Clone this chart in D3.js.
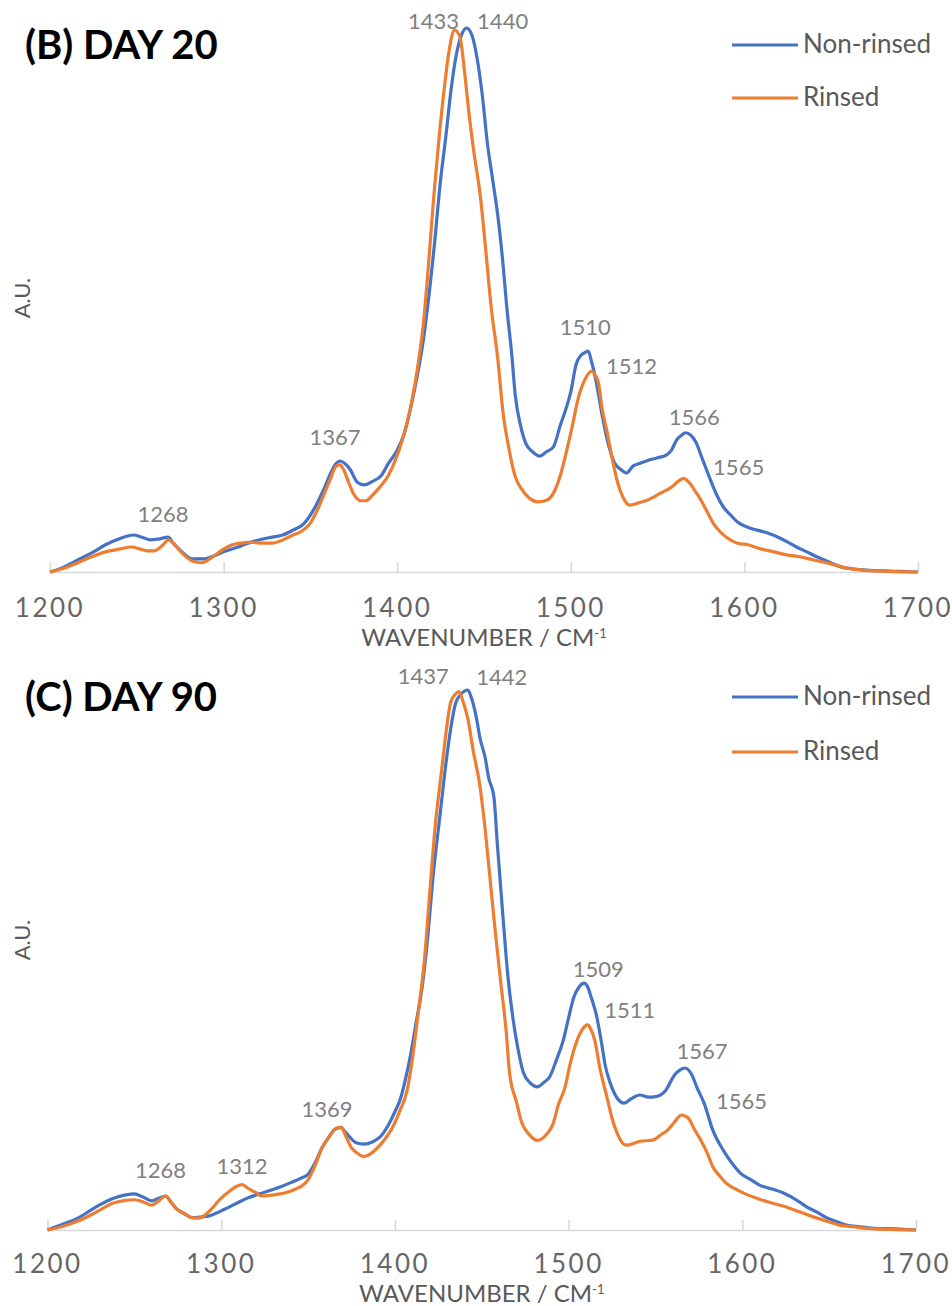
<!DOCTYPE html>
<html>
<head>
<meta charset="utf-8">
<script src="https://cdn.jsdelivr.net/npm/d3@7/dist/d3.min.js"></script>
<style>
  html, body { margin: 0; padding: 0; background: #ffffff; }
  svg { display: block; }
  text { font-family: Lato, "Open Sans", "Liberation Sans", sans-serif; }
</style>
</head>
<body>
<svg id="chart" width="952" height="1306"></svg>
<script>
// Raman spectra, 1200–1700 cm-1, two sampling days, non-rinsed vs rinsed.
const xTicks = [1200, 1300, 1400, 1500, 1600, 1700];
const seriesNames = ["Non-rinsed", "Rinsed"];
const seriesColors = ["#4472C4", "#ED7D31"];

// [wavenumber, intensity (A.U., tallest band = 100)]
const day20NonRinsed = [
  [1200,0],[1208,0.9],[1216,2.2],[1224,3.5],[1232,5.0],[1240,6.1],[1248,6.8],[1253,6.4],[1258,5.9],
  [1263,6.1],[1268,6.4],[1271,5.3],[1276,3.7],[1282,2.4],[1288,2.4],[1294,2.9],[1300,3.7],[1310,4.8],
  [1318,5.7],[1326,6.3],[1334,6.8],[1340,7.7],[1346,8.8],[1353,12.1],[1358,15.4],[1362,18.4],[1365,20.0],
  [1367,20.4],[1370,19.9],[1373,18.8],[1377,16.5],[1381,16.0],[1386,16.7],[1391,17.8],[1395,20.0],
  [1400,22.4],[1404,25.4],[1409,32.0],[1415,42.5],[1421,58.8],[1425,72.1],[1428,80.0],[1431,88.6],
  [1434,95.0],[1437,98.7],[1440,100],[1443,98.7],[1446,94.5],[1449,87.7],[1452,78.7],[1455,72.1],
  [1458,65.4],[1461,56.4],[1463,49.1],[1466,39.9],[1468,32.5],[1471,27.0],[1474,23.7],[1478,22.1],
  [1482,21.3],[1486,22.1],[1490,23.0],[1494,27.0],[1497,29.8],[1500,33.1],[1503,38.1],[1506,39.9],
  [1508,40.3],[1510,40.6],[1512,38.6],[1515,34.4],[1518,28.9],[1521,24.3],[1525,20.2],[1529,18.8],
  [1532,18.2],[1536,19.5],[1540,20.0],[1545,20.6],[1550,21.0],[1555,21.5],[1558,22.4],[1561,24.3],
  [1564,25.2],[1566,25.6],[1569,25.2],[1572,23.9],[1576,20.6],[1580,17.3],[1584,14.2],[1588,11.9],
  [1592,10.5],[1596,9.2],[1603,8.1],[1613,7.2],[1620,6.3],[1625,5.5],[1630,4.6],[1636,3.7],[1641,2.9],
  [1646,2.2],[1651,1.5],[1656,0.9],[1662,0.6],[1668,0.4],[1680,0.2],[1690,0.1],[1700,0]
];
const day20Rinsed = [
  [1200,0],[1208,0.7],[1216,1.7],[1224,2.8],[1232,3.7],[1240,4.2],[1247,4.6],[1252,4.2],[1256,3.9],
  [1260,3.9],[1263,4.4],[1266,5.3],[1268,5.9],[1271,5.3],[1274,4.2],[1278,2.9],[1282,2.0],[1287,1.7],
  [1292,2.4],[1296,3.3],[1300,4.2],[1305,5.0],[1310,5.3],[1316,5.5],[1322,5.3],[1328,5.3],[1334,5.9],
  [1340,6.8],[1345,7.5],[1350,9.0],[1354,11.4],[1357,13.6],[1361,16.7],[1365,19.5],[1367,19.7],
  [1369,18.9],[1372,16.5],[1375,14.3],[1379,13.1],[1382,13.1],[1386,14.2],[1390,15.6],[1395,17.8],
  [1399,20.6],[1403,24.3],[1408,30.7],[1412,38.1],[1415,45.4],[1418,56.4],[1421,68.8],[1424,79.4],
  [1427,88.6],[1430,96.0],[1433,99.6],[1436,98.5],[1439,91.4],[1441,85.3],[1444,77.6],[1448,68.8],
  [1451,59.2],[1454,49.1],[1458,39.0],[1461,29.2],[1464,23.3],[1468,17.5],[1472,15.1],[1476,13.6],
  [1481,12.9],[1486,13.2],[1490,14.5],[1494,17.8],[1498,22.8],[1501,27.0],[1504,31.6],[1508,35.3],
  [1512,36.9],[1514,36.2],[1516,34.7],[1518,30.1],[1521,25.6],[1524,20.6],[1527,16.4],[1530,13.8],
  [1534,12.3],[1539,12.7],[1544,13.2],[1549,14.0],[1553,14.7],[1558,15.6],[1562,16.7],[1565,17.2],
  [1568,16.5],[1572,14.7],[1575,13.2],[1578,11.4],[1582,9.0],[1586,7.4],[1590,6.3],[1596,5.3],
  [1602,5.0],[1610,4.2],[1617,3.7],[1625,3.1],[1632,2.8],[1640,2.2],[1646,1.8],[1652,1.3],[1659,0.7],
  [1667,0.4],[1675,0.2],[1700,0]
];
const day90NonRinsed = [
  [1200,0],[1209,1.1],[1218,2.3],[1228,4.3],[1238,5.9],[1245,6.5],[1250,6.7],[1255,6.1],[1260,5.4],
  [1264,5.9],[1268,6.3],[1271,5.2],[1274,4.0],[1279,3.0],[1283,2.3],[1288,2.4],[1293,2.6],[1297,3.1],
  [1301,3.7],[1308,4.8],[1315,5.9],[1322,6.7],[1328,7.3],[1335,8.1],[1341,8.9],[1346,9.6],[1350,10.3],
  [1354,12.4],[1358,15.2],[1362,17.2],[1365,18.5],[1369,19.0],[1371,18.3],[1374,17.2],[1378,16.1],
  [1382,15.9],[1387,16.3],[1392,17.4],[1396,19.3],[1400,21.9],[1403,24.1],[1406,27.8],[1409,32.4],
  [1412,38.0],[1416,45.7],[1419,54.6],[1422,65.6],[1426,76.9],[1429,85.4],[1432,92.6],[1435,97.6],
  [1438,99.2],[1442,100],[1444,98.6],[1447,94.7],[1449,91.1],[1452,87.4],[1454,83.7],[1457,80.2],
  [1459,71.3],[1462,58.9],[1465,47.2],[1468,39.1],[1471,33.3],[1474,29.1],[1478,27.2],[1482,26.5],
  [1486,27.4],[1489,28.3],[1493,31.5],[1497,35.2],[1500,39.3],[1503,43.1],[1506,45.0],[1509,45.7],
  [1511,45.0],[1513,43.1],[1516,39.8],[1519,34.6],[1521,30.6],[1524,27.2],[1528,24.4],[1532,23.5],
  [1536,24.3],[1541,25.0],[1546,24.6],[1550,24.7],[1556,25.9],[1561,28.7],[1564,29.6],[1567,30.0],
  [1571,28.7],[1574,26.3],[1578,23.5],[1583,18.5],[1589,14.8],[1594,12.4],[1599,10.5],[1605,9.3],
  [1610,8.3],[1617,7.6],[1624,6.8],[1631,5.6],[1637,4.3],[1643,3.3],[1649,2.2],[1655,1.5],[1660,0.9],
  [1668,0.6],[1676,0.3],[1688,0.2],[1700,0]
];
const day90Rinsed = [
  [1200,0],[1209,0.7],[1218,1.7],[1228,3.3],[1238,5.0],[1245,5.5],[1250,5.6],[1255,5.2],[1260,4.6],
  [1264,5.4],[1268,6.3],[1271,5.2],[1274,4.0],[1279,3.0],[1283,2.3],[1287,2.2],[1290,2.6],[1295,4.1],
  [1299,5.6],[1304,7.0],[1309,8.1],[1312,8.4],[1316,7.6],[1320,6.9],[1323,6.3],[1328,6.4],[1332,6.6],
  [1338,7.0],[1343,7.6],[1347,8.3],[1350,9.3],[1354,11.9],[1358,15.2],[1362,17.2],[1366,18.8],
  [1369,19.0],[1372,17.2],[1375,15.2],[1378,14.3],[1382,13.6],[1386,14.1],[1389,14.9],[1394,16.7],
  [1399,19.2],[1403,22.2],[1407,25.8],[1410,31.5],[1413,39.1],[1417,50.0],[1420,62.2],[1423,74.1],
  [1427,85.4],[1430,93.5],[1432,97.6],[1435,99.3],[1437,99.7],[1439,98.1],[1442,94.7],[1445,88.9],
  [1449,82.1],[1452,74.1],[1455,64.3],[1458,54.6],[1461,45.7],[1464,37.0],[1466,29.1],[1470,23.7],
  [1473,19.9],[1477,17.8],[1482,16.6],[1487,17.6],[1491,19.6],[1494,23.1],[1498,26.5],[1501,30.9],
  [1505,35.2],[1508,37.2],[1511,38.0],[1513,37.0],[1515,35.2],[1518,30.0],[1522,24.7],[1525,20.7],
  [1528,17.9],[1533,15.7],[1541,16.4],[1549,16.7],[1553,17.6],[1557,18.5],[1561,20.0],[1565,21.3],
  [1569,20.7],[1572,18.9],[1576,16.7],[1580,14.1],[1583,11.7],[1587,10.0],[1591,8.6],[1596,7.6],
  [1603,6.5],[1610,5.7],[1618,4.9],[1624,4.4],[1630,3.7],[1636,3.0],[1643,2.2],[1650,1.5],[1656,0.9],
  [1664,0.6],[1672,0.3],[1686,0.1],[1700,0]
];

// Annotated band positions: [wavenumber, series index]
const day20Peaks = [[1268,0],[1367,0],[1433,1],[1440,0],[1510,0],[1512,1],[1566,0],[1565,1]];
const day90Peaks = [[1268,0],[1312,1],[1369,0],[1437,1],[1442,0],[1509,0],[1511,1],[1567,0],[1565,1]];

// Panel layout (pixel geometry, label nudges)
const panels = [
  {
    title: "(B) DAY 20", series: [day20NonRinsed, day20Rinsed], peaks: day20Peaks,
    xRange: [50, 918], yRange: [572, 28], titleY: 59, legendY: [45, 98], auY: 298,
    tickLabelDy: 45, axisTitleY: 646,
    nudge: {1268:[-5,-24],1367:[-5,-25],1433:[-21,-10],1440:[36,-8],1510:[-3,-25],1512:[40,-6],1566:[9,-16],1565:[55,-12]}
  },
  {
    title: "(C) DAY 90", series: [day90NonRinsed, day90Rinsed], peaks: day90Peaks,
    xRange: [47.5, 916], yRange: [1230, 690], titleY: 711, legendY: [697, 752], auY: 940,
    tickLabelDy: 43, axisTitleY: 1302,
    nudge: {1268:[-5,-26],1312:[0,-19],1369:[-14,-19],1437:[-36,-16],1442:[34,-14],1509:[14,-15],1511:[42,-15],1567:[17,-18],1565:[60,-14]}
  }
];

const svg = d3.select("#chart");

panels.forEach(p => {
  const g = svg.append("g");
  const x = d3.scaleLinear().domain([1200, 1700]).range(p.xRange);
  const y = d3.scaleLinear().domain([0, 100]).range(p.yRange);
  const base = p.yRange[0];

  // horizontal axis: baseline with inward ticks
  const axis = d3.axisTop(x).tickValues(xTicks).tickSize(10).tickSizeOuter(0).tickFormat("");
  const ag = g.append("g").attr("transform", `translate(0,${base})`).call(axis);
  ag.select(".domain").attr("stroke", "#d9d9d9").attr("stroke-width", 1.6);
  ag.selectAll(".tick line").attr("stroke", "#d9d9d9").attr("stroke-width", 1.6);

  g.selectAll(".xlab").data(xTicks).join("text")
    .attr("x", d => x(d)).attr("y", base + p.tickLabelDy)
    .attr("text-anchor", "middle").attr("fill", "#666666")
    .attr("font-size", 26).style("letter-spacing", "2.5px")
    .text(d => d);

  const at = g.append("text")
    .attr("x", (p.xRange[0] + p.xRange[1]) / 2).attr("y", p.axisTitleY)
    .attr("text-anchor", "middle").attr("fill", "#595959").attr("font-size", 24);
  at.append("tspan").text("WAVENUMBER / CM");
  at.append("tspan").attr("font-size", 13).attr("dy", -8).text("-1");

  g.append("text")
    .attr("transform", `translate(30,${p.auY}) rotate(-90)`)
    .attr("text-anchor", "middle").attr("fill", "#595959").attr("font-size", 22)
    .text("A.U.");

  // spectra
  const line = d3.line().x(d => x(d[0])).y(d => y(d[1])).curve(d3.curveMonotoneX);
  p.series.forEach((s, i) => {
    g.append("path").datum(s)
      .attr("fill", "none").attr("stroke", seriesColors[i])
      .attr("stroke-width", 3.2).attr("stroke-linejoin", "round")
      .attr("d", line);
  });

  // band labels
  p.peaks.forEach(([wn, si]) => {
    const pt = p.series[si].find(d => d[0] === wn);
    const [dx, dy] = p.nudge[wn];
    g.append("text")
      .attr("x", x(wn) + dx).attr("y", y(pt[1]) + dy)
      .attr("text-anchor", "middle").attr("dominant-baseline", "central")
      .attr("fill", "#808080").attr("font-size", 22)
      .text(wn);
  });

  // title
  g.append("text").attr("x", 25).attr("y", p.titleY)
    .attr("font-size", 40).attr("font-weight", 700).attr("fill", "#000")
    .text(p.title);

  // legend
  seriesNames.forEach((name, i) => {
    const ly = p.legendY[i];
    g.append("line").attr("x1", 732).attr("x2", 798).attr("y1", ly).attr("y2", ly)
      .attr("stroke", seriesColors[i]).attr("stroke-width", 3.2);
    g.append("text").attr("x", 803).attr("y", ly + 8)
      .attr("fill", "#595959").attr("font-size", 26)
      .text(name);
  });
});
</script>
</body>
</html>
